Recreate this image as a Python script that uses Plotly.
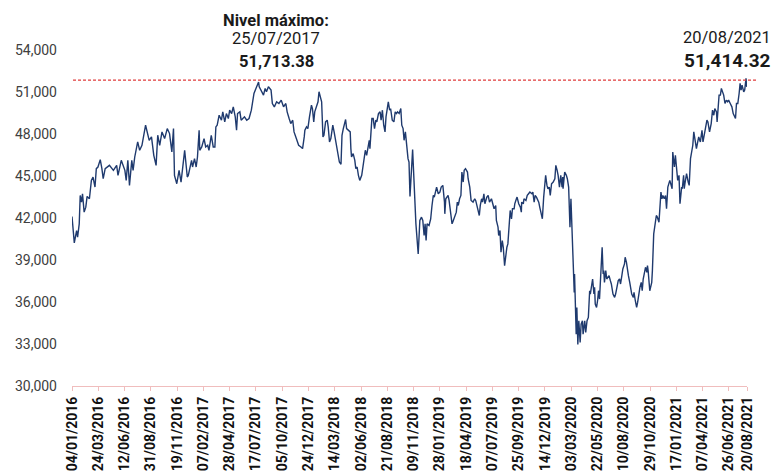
import plotly.graph_objects as go

dates = [
 "2016-01-04","2016-01-11","2016-01-18","2016-01-21","2016-01-26","2016-01-29","2016-02-02","2016-02-05","2016-02-10","2016-02-15",
 "2016-02-19","2016-02-26","2016-03-03","2016-03-08","2016-03-14","2016-03-18","2016-03-23","2016-03-30","2016-04-04","2016-04-08",
 "2016-04-14","2016-04-27","2016-05-09","2016-05-19","2016-05-23","2016-06-02","2016-06-13","2016-06-17","2016-06-22","2016-06-27",
 "2016-07-04","2016-07-08","2016-07-13","2016-07-22","2016-07-28","2016-08-04","2016-08-15","2016-08-19","2016-08-26","2016-09-02",
 "2016-09-09","2016-09-16","2016-09-21","2016-09-27","2016-10-04","2016-10-12","2016-10-20","2016-10-27","2016-11-03","2016-11-08",
 "2016-11-11","2016-11-18","2016-11-25","2016-12-01","2016-12-12","2016-12-20","2016-12-23",
 "2017-01-02","2017-01-05","2017-01-11","2017-01-16","2017-01-20","2017-01-25","2017-01-27","2017-02-02","2017-02-09","2017-02-14",
 "2017-02-20","2017-02-24","2017-03-03","2017-03-09","2017-03-14","2017-03-17","2017-03-21","2017-03-27","2017-04-03","2017-04-07",
 "2017-04-13","2017-04-18","2017-04-24","2017-04-28","2017-05-04","2017-05-09","2017-05-15","2017-05-19","2017-05-22","2017-05-29",
 "2017-06-02","2017-06-12","2017-06-19","2017-06-26","2017-07-03","2017-07-07","2017-07-11","2017-07-17","2017-07-25","2017-07-27",
 "2017-08-02","2017-08-09","2017-08-14","2017-08-18","2017-08-24","2017-09-01","2017-09-05","2017-09-11","2017-09-18","2017-09-25",
 "2017-10-02","2017-10-09","2017-10-16","2017-10-20","2017-10-26","2017-10-31","2017-11-06","2017-11-10","2017-11-17","2017-11-24",
 "2017-12-01","2017-12-06","2017-12-11","2017-12-13","2017-12-18","2017-12-22","2017-12-27",
 "2018-01-02","2018-01-05","2018-01-09","2018-01-12","2018-01-17","2018-01-22","2018-01-25","2018-01-29","2018-02-02","2018-02-06",
 "2018-02-09","2018-02-14","2018-02-19","2018-02-22","2018-02-26","2018-03-02","2018-03-08","2018-03-12","2018-03-16","2018-03-20",
 "2018-03-23","2018-03-28","2018-04-02","2018-04-05","2018-04-09","2018-04-13","2018-04-16","2018-04-19","2018-04-24","2018-04-30",
 "2018-05-02","2018-05-04","2018-05-09","2018-05-14","2018-05-17","2018-05-21","2018-05-25","2018-05-29","2018-06-04","2018-06-07",
 "2018-06-11","2018-06-15","2018-06-19","2018-06-22","2018-06-27","2018-06-29","2018-07-05","2018-07-09","2018-07-13","2018-07-17",
 "2018-07-20","2018-07-25","2018-07-30","2018-08-02","2018-08-06","2018-08-10","2018-08-14","2018-08-17","2018-08-22","2018-08-24",
 "2018-08-28","2018-08-31","2018-09-05","2018-09-10","2018-09-14","2018-09-18","2018-09-21","2018-09-26","2018-10-01","2018-10-04",
 "2018-10-08","2018-10-11","2018-10-15","2018-10-19","2018-10-23","2018-10-26","2018-10-29","2018-11-06","2018-11-13","2018-11-16",
 "2018-11-23","2018-11-28","2018-12-03","2018-12-07","2018-12-11","2018-12-14","2018-12-17","2018-12-20","2018-12-26","2018-12-31",
 "2019-01-04","2019-01-08","2019-01-11","2019-01-18","2019-01-23","2019-01-28","2019-02-01","2019-02-06","2019-02-11","2019-02-12",
 "2019-02-15","2019-02-22","2019-02-25","2019-03-01","2019-03-06","2019-03-08","2019-03-14","2019-03-19","2019-03-22","2019-03-25",
 "2019-03-29","2019-04-02","2019-04-05","2019-04-09","2019-04-12","2019-04-16","2019-04-22","2019-04-24","2019-04-29","2019-05-03",
 "2019-05-09","2019-05-14","2019-05-17","2019-05-24","2019-05-28","2019-05-31","2019-06-04","2019-06-07","2019-06-11","2019-06-14",
 "2019-06-20","2019-06-24","2019-06-28","2019-07-04","2019-07-09","2019-07-12","2019-07-17","2019-07-19","2019-07-24","2019-07-26",
 "2019-07-30","2019-08-02","2019-08-06","2019-08-09","2019-08-13","2019-08-16","2019-08-20","2019-08-23","2019-08-28","2019-08-30",
 "2019-09-03","2019-09-06","2019-09-11","2019-09-13","2019-09-18","2019-09-20","2019-09-25","2019-09-30","2019-10-03","2019-10-04",
 "2019-10-09","2019-10-11","2019-10-17","2019-10-21","2019-10-25","2019-10-29","2019-11-04","2019-11-07","2019-11-11","2019-11-14",
 "2019-11-18","2019-11-25","2019-11-28","2019-12-03","2019-12-06","2019-12-10","2019-12-13","2019-12-16","2019-12-20","2019-12-23",
 "2019-12-27","2019-12-30",
 "2020-01-03","2020-01-08","2020-01-13","2020-01-16","2020-01-20","2020-01-23","2020-01-27","2020-01-31","2020-02-04","2020-02-06",
 "2020-02-07","2020-02-12","2020-02-17","2020-02-20","2020-02-24","2020-02-26","2020-02-28","2020-03-02","2020-03-05","2020-03-06",
 "2020-03-09","2020-03-12","2020-03-13","2020-03-18","2020-03-20","2020-03-23","2020-03-26","2020-03-30","2020-04-02","2020-04-06",
 "2020-04-08","2020-04-13","2020-04-16","2020-04-20","2020-04-24","2020-04-28","2020-04-30","2020-05-04","2020-05-07","2020-05-11",
 "2020-05-13","2020-05-15","2020-05-19","2020-05-22","2020-05-25","2020-05-28","2020-06-01","2020-06-03","2020-06-05","2020-06-08",
 "2020-06-10","2020-06-12","2020-06-16","2020-06-19","2020-06-23","2020-06-26","2020-06-30","2020-07-03","2020-07-08","2020-07-13",
 "2020-07-16","2020-07-20","2020-07-24","2020-07-28","2020-07-31","2020-08-04","2020-08-07","2020-08-12","2020-08-14","2020-08-18",
 "2020-08-21","2020-08-24","2020-08-28","2020-08-31","2020-09-03","2020-09-08","2020-09-10","2020-09-14","2020-09-18","2020-09-21",
 "2020-09-24","2020-09-28","2020-10-02","2020-10-05","2020-10-08","2020-10-12","2020-10-15","2020-10-19","2020-10-21","2020-10-23",
 "2020-10-27","2020-10-28","2020-11-03","2020-11-05","2020-11-09","2020-11-13","2020-11-17","2020-11-20","2020-11-25","2020-11-27",
 "2020-12-01","2020-12-04","2020-12-07","2020-12-11","2020-12-15","2020-12-18","2020-12-22","2020-12-28",
 "2021-01-04","2021-01-06","2021-01-08","2021-01-11","2021-01-14","2021-01-18","2021-01-21","2021-01-25","2021-01-28","2021-02-02",
 "2021-02-04","2021-02-08","2021-02-10","2021-02-12","2021-02-17","2021-02-22","2021-02-25","2021-03-01","2021-03-04","2021-03-08",
 "2021-03-11","2021-03-16","2021-03-19","2021-03-23","2021-03-26","2021-03-31","2021-04-05","2021-04-08","2021-04-12","2021-04-16",
 "2021-04-20","2021-04-23","2021-04-28","2021-05-03","2021-05-07","2021-05-11","2021-05-14","2021-05-19","2021-05-21","2021-05-27",
 "2021-05-31","2021-06-03","2021-06-07","2021-06-10","2021-06-14","2021-06-18","2021-06-22","2021-06-25","2021-06-30","2021-07-05",
 "2021-07-09","2021-07-13","2021-07-16","2021-07-19","2021-07-23","2021-07-27","2021-07-30","2021-08-02","2021-08-05","2021-08-10",
 "2021-08-13","2021-08-17","2021-08-19","2021-08-20",
]

values = [
 42110,40220,41105,40627,41582,43612,43134,43732,42418,42776,
 43540,43373,44687,44925,44209,45523,45642,46167,45523,44806,
 45523,45761,45403,45761,45045,46120,45403,44687,46120,44328,
 46120,45403,46358,47433,46836,47194,48627,48269,47551,47791,
 46478,45761,47910,47194,48149,47672,48388,48030,46716,48388,
 45045,44448,45403,44567,46836,44925,45045,
 46120,45642,46239,45642,46358,48269,46836,47075,47672,47075,
 47194,46836,47910,47075,47075,48507,48627,49343,48985,49582,
 48866,49463,49104,49701,49463,49940,49224,48269,49463,49582,
 48985,49224,48985,49104,49701,50298,50895,51254,51713.38,51373,
 51134,50776,51254,51015,51373,51134,50179,49940,50298,50179,
 50418,49940,50179,49582,49104,48746,48985,48149,47672,47194,
 47075,46955,47791,48269,48507,48388,49224,
 50060,49821,48866,49582,49940,50298,51015,50537,50298,47791,
 47910,48866,48985,48507,47433,47672,48627,48149,47552,46955,
 46597,46000,45833,47910,48388,48746,49033,48388,48269,48149,
 46955,46358,46597,46120,45522,45642,45045,44687,45045,45522,
 46120,46836,46478,46836,47552,46955,49104,49104,48388,48985,
 48866,49463,49582,48985,49701,48627,48149,49224,49940,50298,
 49701,49821,48985,48866,49582,49463,49582,49463,49821,48627,
 48388,47552,48149,47075,46239,46000,43540,46884,43373,41582,
 39432,41821,42060,41821,40746,41582,40388,41582,41463,41940,
 42895,43612,43492,44209,43731,43851,44209,44328,43134,42298,
 43373,43612,43254,42537,41582,41701,42179,42418,43134,42895,
 43373,43612,45283,44567,45403,45522,45283,44806,44209,43254,
 43134,43373,43254,42537,42179,42895,43373,43134,43731,43015,
 43492,43612,43134,43373,43015,42657,42895,41821,41343,40746,
 41104,39552,40388,39910,38597,39313,39910,40149,41701,42537,
 41940,42657,42657,43015,43373,43492,43015,42776,42418,43134,
 43015,43373,43254,43612,43731,43851,43731,43851,43134,43613,
 43493,43135,42777,42299,41941,43493,44210,45045,44329,44090,
 44210,43613,
 44448,44568,44807,45762,45404,45045,44210,45045,44210,44926,
 44090,45284,45045,44807,44210,43016,41344,43374,41344,39672,
 38717,36687,38001,33702,35613,32964,34658,33105,34419,34658,
 33702,34658,33822,34658,34897,36807,36568,37046,37643,36568,
 37046,35852,35613,36090,36807,36210,38240,38956,39911,38001,
 38240,37404,38240,37643,37762,37882,37524,37285,36568,36329,
 36568,37046,37524,37643,37285,37882,38359,38717,39195,38837,
 38240,37882,37404,37046,36568,36329,36687,36090,35613,35971,
 36568,37046,37404,36807,37643,38240,38479,38120,38598,38240,
 37046,36806,37403,38239,40866,41582,42180,42060,41702,42418,
 43851,43373,43612,43373,43612,42657,44209,44687,
 44090,46716,46358,45642,46478,45403,44687,45045,43015,44209,
 44090,45045,44090,44448,45164,44567,44328,46239,46716,47194,
 48149,47552,46955,47433,47791,47433,48269,47433,48030,48627,
 48985,48866,48149,48746,49701,49343,49821,49582,48866,50776,
 50776,51254,51015,50776,50179,50418,50298,50418,50179,49940,
 49463,49224,49104,50179,50179,50895,51612,51134,51493,51015,
 51134,51970,51373,51414.32,
]

tick_dates = [
 "2016-01-04","2016-03-24","2016-06-12","2016-08-31","2016-11-19","2017-02-07","2017-04-28",
 "2017-07-17","2017-10-05","2017-12-24","2018-03-14","2018-06-02","2018-08-21","2018-11-09",
 "2019-01-28","2019-04-18","2019-07-07","2019-09-25","2019-12-14","2020-03-03","2020-05-22",
 "2020-08-10","2020-10-29","2021-01-17","2021-04-07","2021-06-26","2021-08-20",
]

y_ticks = [30000, 33000, 36000, 39000, 42000, 45000, 48000, 51000, 54000]

max_date = "25/07/2017"
max_value = "51,713.38"
last_date = "20/08/2021"
last_value = "51,414.32"
ref_level = 51850

FONT = "Roboto"

fig = go.Figure()
fig.add_trace(go.Scatter(
    x=dates, y=values, mode="lines",
    line=dict(color="#1F3A6E", width=1.4),
    hoverinfo="skip", showlegend=False,
))

fig.add_shape(type="line", xref="paper", yref="y",
              x0=0.0015, x1=1.0148, y0=ref_level, y1=ref_level,
              line=dict(color="#E03C3C", width=1.1, dash="3px,2px"))

def px_to_paper(xpix, ypix):
    return (xpix - 72) / 675.0, (386 - ypix) / 336.0

for text, xpix, ypix, size, bold in [
    ("Nivel máximo:", 276, 20, 16.5, True),
    (max_date, 276, 39, 16.5, False),
    (max_value, 276, 61, 16.5, True),
    (last_date, 727, 38, 16.5, False),
    (last_value, 727, 60, 19, True),
]:
    xp, yp = px_to_paper(xpix, ypix)
    fig.add_annotation(
        text=f"<b>{text}</b>" if bold else text,
        xref="paper", yref="paper", x=xp, y=yp,
        xanchor="center", yanchor="middle", showarrow=False,
        font=dict(family=FONT, size=size, color="#1a1a1a"),
    )

fig.update_layout(
    width=783, height=472,
    margin=dict(l=72, r=36, t=50, b=86),
    paper_bgcolor="white", plot_bgcolor="white",
    font=dict(family=FONT),
    xaxis=dict(
        type="date",
        range=["2016-01-04", "2021-08-20"],
        tickvals=tick_dates,
        tickformat="%d/%m/%Y",
        tickangle=-90,
        tickfont=dict(family=FONT, size=14, color="#111111", weight="bold"),
        showgrid=False, zeroline=False,
        showline=True, linecolor="#F0BDBD", linewidth=1.2,
        ticks="outside", ticklen=4, tickcolor="#F0BDBD", tickwidth=1,
        automargin=False,
    ),
    yaxis=dict(
        range=[30000, 54000],
        tickvals=y_ticks,
        tickformat=",d",
        tickfont=dict(family=FONT, size=14, color="#404040"),
        showgrid=False, zeroline=False, showline=False,
        ticklabelstandoff=14,
        automargin=False,
    ),
)

fig.write_html(
    "out.html",
    config={"displayModeBar": False},
    post_script="document.body.style.margin='0px';document.body.style.padding='0px';",
)
